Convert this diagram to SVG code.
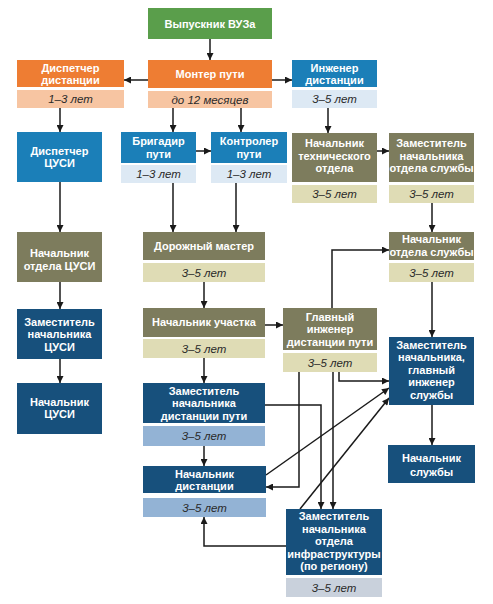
<svg xmlns="http://www.w3.org/2000/svg" width="493" height="604" viewBox="0 0 493 604">
<defs>
<marker id="a" viewBox="0 0 10 10" refX="10" refY="5" markerWidth="8" markerHeight="7" orient="auto" markerUnits="userSpaceOnUse"><path d="M0,0 L10,5 L0,10 z" fill="#1a1a1a"/></marker>
<style>
.t{font-family:"Liberation Sans",Arial,sans-serif;font-size:11px;font-weight:bold;fill:#fff;text-anchor:middle}
.s{font-family:"Liberation Sans",Arial,sans-serif;font-size:11.5px;font-style:italic;fill:#2a2a2a;text-anchor:middle}
.g{fill:#5a9e4b}.o{fill:#ee7d33}.lo{fill:#f7c5a2}.b{fill:#1b7fb8}.lb{fill:#dde9f4}
.v{fill:#7d7c5d}.lv{fill:#dfdcb5}.n{fill:#17507c}.mb{fill:#93b3d5}.gb{fill:#c9d1dc}
.c{fill:none;stroke:#1a1a1a;stroke-width:1.5;marker-end:url(#a)}
</style>
</defs>
<rect width="493" height="604" fill="#fff"/>
<g id="connectors">
<path class="c" d="M210,39 V60"/>
<path class="c" d="M148,80 H124"/>
<path class="c" d="M272,80 H292"/>
<path class="c" d="M60,108 V132"/>
<path class="c" d="M173,108 V132"/>
<path class="c" d="M241,108 V132"/>
<path class="c" d="M328,108 V133"/>
<path class="c" d="M196,151 H211"/>
<path class="c" d="M377,151 H389"/>
<path class="c" d="M60,182 V232"/>
<path class="c" d="M173,183 V232"/>
<path class="c" d="M236,183 V232"/>
<path class="c" d="M432,203 V232"/>
<path class="c" d="M60,282 V309"/>
<path class="c" d="M204,282 V308"/>
<path class="c" d="M265,325 H283"/>
<path class="c" d="M432,282 V337"/>
<path class="c" d="M332,308 V250 H389"/>
<path class="c" d="M60,359 V383"/>
<path class="c" d="M204,358 V383"/>
<path class="c" d="M432,405 V445"/>
<path class="c" d="M204,446 V466"/>
<path class="c" d="M299,372 V487 H266"/>
<path class="c" d="M333,372 V509"/>
<path class="c" d="M339,372 V381 H389"/>
<path class="c" d="M265,405 H321 V509"/>
<path class="c" d="M266,475 L389,388"/>
<path class="c" d="M300,509 L389,398"/>
<path class="c" d="M286,546 H204 V517"/>
</g>
<g id="n1"><rect class="g" x="148" y="8" width="124" height="31"/><text class="t" x="210" y="27.5">Выпускник ВУЗа</text></g>
<g id="n2"><rect class="o" x="17" y="60" width="107" height="27"/><text class="t" x="70.5" y="71.75">Диспетчер<tspan x="70.5" dy="12.5">дистанции</tspan></text><rect class="lo" x="17" y="90" width="107" height="18"/><text class="s" x="70.5" y="103">1–3 лет</text></g>
<g id="n3"><rect class="o" x="148" y="60" width="124" height="28"/><text class="t" x="210" y="77.5">Монтер пути</text><rect class="lo" x="148" y="91" width="124" height="17"/><text class="s" x="210" y="103.5">до 12 месяцев</text></g>
<g id="n4"><rect class="b" x="292" y="60" width="85" height="27"/><text class="t" x="334.5" y="71.75">Инженер<tspan x="334.5" dy="12.5">дистанции</tspan></text><rect class="lb" x="292" y="90" width="85" height="18"/><text class="s" x="334.5" y="103">3–5 лет</text></g>
<g id="n5"><rect class="b" x="17" y="132" width="85" height="50"/><text class="t" x="59.5" y="154.75">Диспетчер<tspan x="59.5" dy="12.5">ЦУСИ</tspan></text></g>
<g id="n6"><rect class="b" x="121" y="132" width="75" height="31"/><text class="t" x="158.5" y="145.25">Бригадир<tspan x="158.5" dy="12.5">пути</tspan></text><rect class="lb" x="121" y="165" width="75" height="18"/><text class="s" x="158.5" y="178">1–3 лет</text></g>
<g id="n7"><rect class="b" x="211" y="132" width="76" height="31"/><text class="t" x="249" y="145.25">Контролер<tspan x="249" dy="12.5">пути</tspan></text><rect class="lb" x="211" y="165" width="76" height="18"/><text class="s" x="249" y="178">1–3 лет</text></g>
<g id="n8"><rect class="v" x="292" y="133" width="85" height="49"/><text class="t" x="334.5" y="147">Начальник<tspan x="334.5" dy="12.5">технического</tspan><tspan x="334.5" dy="12.5">отдела</tspan></text><rect class="lv" x="292" y="185" width="85" height="18"/><text class="s" x="334.5" y="198">3–5 лет</text></g>
<g id="n9"><rect class="v" x="389" y="133" width="85" height="49"/><text class="t" x="431.5" y="147">Заместитель<tspan x="431.5" dy="12.5">начальника</tspan><tspan x="431.5" dy="12.5">отдела службы</tspan></text><rect class="lv" x="389" y="185" width="85" height="18"/><text class="s" x="431.5" y="198">3–5 лет</text></g>
<g id="n10"><rect class="v" x="17" y="232" width="85" height="50"/><text class="t" x="59.5" y="257.25">Начальник<tspan x="59.5" dy="12.5">отдела ЦУСИ</tspan></text></g>
<g id="n11"><rect class="v" x="143" y="232" width="122" height="28"/><text class="t" x="204" y="250">Дорожный мастер</text><rect class="lv" x="143" y="263" width="122" height="19"/><text class="s" x="204" y="276.5">3–5 лет</text></g>
<g id="n12"><rect class="v" x="389" y="232" width="85" height="28"/><text class="t" x="431.5" y="243.25">Начальник<tspan x="431.5" dy="12.5">отдела службы</tspan></text><rect class="lv" x="389" y="263" width="85" height="19"/><text class="s" x="431.5" y="276.5">3–5 лет</text></g>
<g id="n13"><rect class="n" x="17" y="309" width="85" height="50"/><text class="t" x="59.5" y="325.5">Заместитель<tspan x="59.5" dy="12.5">начальника</tspan><tspan x="59.5" dy="12.5">ЦУСИ</tspan></text></g>
<g id="n14"><rect class="v" x="143" y="308" width="122" height="29"/><text class="t" x="204" y="326">Начальник участка</text><rect class="lv" x="143" y="339" width="122" height="19"/><text class="s" x="204" y="352.5">3–5 лет</text></g>
<g id="n15"><rect class="v" x="283" y="308" width="94" height="42"/><text class="t" x="330" y="320.8">Главный<tspan x="330" dy="12.5">инженер</tspan><tspan x="330" dy="12.5">дистанции пути</tspan></text><rect class="lv" x="283" y="353" width="94" height="19"/><text class="s" x="330" y="366.5">3–5 лет</text></g>
<g id="n16"><rect class="n" x="389" y="337" width="85" height="68"/><text class="t" x="431.5" y="348.5">Заместитель<tspan x="431.5" dy="12.5">начальника,</tspan><tspan x="431.5" dy="12.5">главный</tspan><tspan x="431.5" dy="12.5">инженер</tspan><tspan x="431.5" dy="12.5">службы</tspan></text></g>
<g id="n17"><rect class="n" x="388" y="445" width="87" height="38"/><text class="t" x="431.5" y="461.5">Начальник<tspan x="431.5" dy="14">службы</tspan></text></g>
<g id="n18"><rect class="n" x="17" y="383" width="85" height="51"/><text class="t" x="59.5" y="405.75">Начальник<tspan x="59.5" dy="12.5">ЦУСИ</tspan></text></g>
<g id="n19"><rect class="n" x="143" y="383" width="122" height="40"/><text class="t" x="204" y="394.5">Заместитель<tspan x="204" dy="12.5">начальника</tspan><tspan x="204" dy="12.5">дистанции пути</tspan></text><rect class="mb" x="143" y="426" width="122" height="20"/><text class="s" x="204" y="440">3–5 лет</text></g>
<g id="n20"><rect class="n" x="143" y="466" width="123" height="27"/><text class="t" x="204.5" y="477.75">Начальник<tspan x="204.5" dy="12.5">дистанции</tspan></text><rect class="mb" x="143" y="498" width="123" height="19"/><text class="s" x="204.5" y="511.5">3–5 лет</text></g>
<g id="n21"><rect class="n" x="286" y="509" width="96" height="66"/><text class="t" x="334" y="520">Заместитель<tspan x="334" dy="12.5">начальника</tspan><tspan x="334" dy="12.5">отдела</tspan><tspan x="334" dy="12.5">инфраструктуры</tspan><tspan x="334" dy="12.5">(по региону)</tspan></text><rect class="gb" x="286" y="578" width="96" height="19"/><text class="s" x="334" y="591.5">3–5 лет</text></g>
</svg>
